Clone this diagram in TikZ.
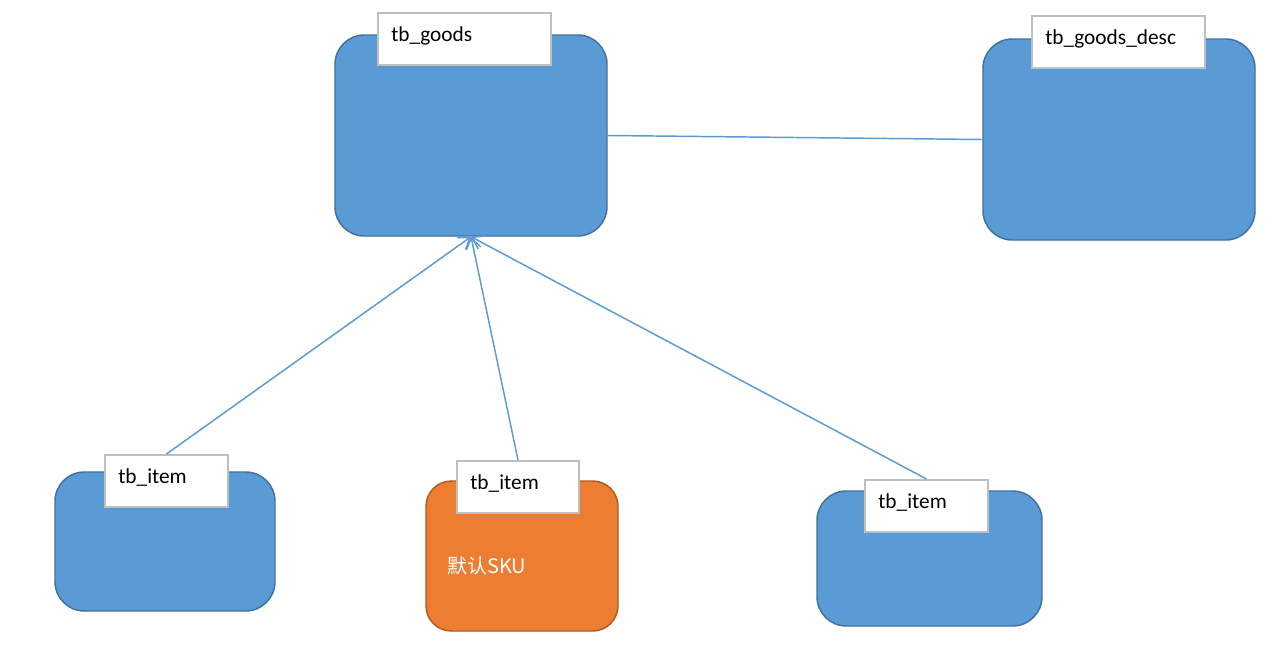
\documentclass[tikz,border=0pt]{standalone}
\usepackage{fontspec}
\setmainfont{Carlito}
\newfontfamily\cjkfont{Noto Sans CJK SC}
\usetikzlibrary{arrows.meta}
\definecolor{boxblue}{HTML}{5B9BD5}
\definecolor{boxblueline}{HTML}{41719C}
\definecolor{boxorange}{HTML}{ED7D31}
\definecolor{boxorangeline}{HTML}{AE5A21}
\definecolor{labelgrey}{HTML}{BFBFBF}
\tikzset{
  tablebox/.style={rectangle, rounded corners=22pt, draw=boxblueline, fill=boxblue,
    line width=1.1pt, inner sep=0pt},
  skubox/.style={tablebox, draw=boxorangeline, fill=boxorange, rounded corners=19pt},
  labelbox/.style={rectangle, draw=labelgrey, fill=white, line width=1.5pt,
    anchor=north west, inner xsep=10pt, inner ysep=0pt, text height=21pt,
    text depth=18pt, align=left, text width=#1,
    font=\fontsize{16pt}{19pt}\selectfont},
  link/.style={draw=boxblue, line width=1.1pt},
  ref/.style={link, -{Straight Barb[length=8pt,width=11pt]}}
}
\begin{document}
\begin{tikzpicture}[x=0.75pt,y=-0.75pt]
      \useasboundingbox[fill=white] (0,0) rectangle (1285,650);

      % tables
      \node[tablebox, minimum width=204pt, minimum height=150.75pt] (goods) at (471,135.5) {};
      \node[tablebox, minimum width=204pt, minimum height=150.75pt] (desc) at (1119,139.5) {};
      \node[tablebox, minimum width=165pt, minimum height=104.25pt] (item1) at (165,541.5) {};
      \node[skubox, minimum width=144pt, minimum height=112.5pt] (sku) at (522,556) {};
      \node[tablebox, minimum width=168.75pt, minimum height=101.25pt] (item3) at (929.5,558.5) {};

      % names
      \node[labelbox=109.75pt] (goodsname) at (377,12) {tb\_goods};
      \node[labelbox=109.75pt] (descname) at (1031,15) {tb\_goods\_desc};
      \node[labelbox=72.25pt] (item1name) at (104,454) {tb\_item};
      \node[labelbox=71.5pt] (skuname) at (456,460) {tb\_item};
      \node[labelbox=72.25pt] (item3name) at (864,479) {tb\_item};

      \node[anchor=west, text=white, inner sep=0pt,
        font=\cjkfont\fontsize{15pt}{18pt}\selectfont] (skutext) at (447,566) {默认SKU};

      % links
      \draw[link] (goods.east) -- (desc.west);
      \draw[ref] (item1name.north) -- (goods.south);
      \draw[ref] (skuname.north) -- (goods.south);
      \draw[ref] (item3name.north) -- (goods.south);
\end{tikzpicture}
\end{document}
